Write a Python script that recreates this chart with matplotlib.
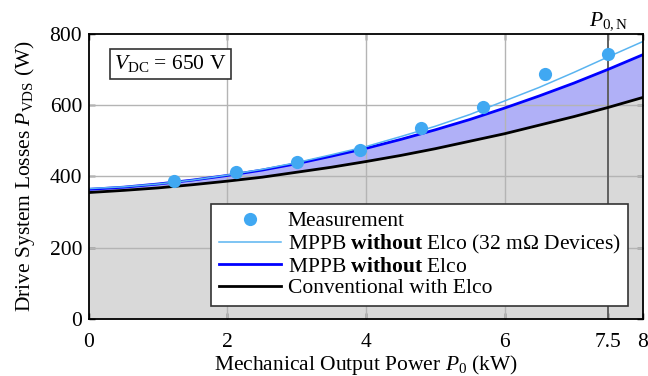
import matplotlib
matplotlib.use("Agg")
import matplotlib.pyplot as plt

plt.rcParams['font.family'] = ['Liberation Serif', 'DejaVu Serif']
plt.rcParams['mathtext.fontset'] = 'custom'
plt.rcParams['mathtext.rm'] = 'Liberation Serif'
plt.rcParams['mathtext.it'] = 'Liberation Serif:italic'
plt.rcParams['mathtext.bf'] = 'Liberation Serif:bold'

# Data
power = [0, 0.5, 1, 1.5, 2, 2.5, 3, 3.5, 4, 4.5, 5, 5.5, 6, 6.5, 7, 7.5, 8]
conventional = [355, 361, 368, 377, 387, 398, 412, 426, 442, 459, 478, 499, 520, 544, 568, 594, 622]
mppb = [364, 370, 379, 390, 403, 418, 436, 457, 479, 504, 531, 560, 592, 626, 662, 701, 742]
mppb_32 = [366, 371, 379, 390, 404, 420, 439, 461, 484, 512, 541, 574, 612, 650, 692, 736, 779]
meas_power = [1.23, 2.12, 3.01, 3.91, 4.80, 5.69, 6.59, 7.5]
meas_loss = [388, 412, 440, 475, 536, 596, 688, 744]
xticks = [0, 2, 4, 6, 7.5, 8]
xticklabels = ['0', '2', '4', '6', '7.5', '8']
yticks = [0, 200, 400, 600, 800]

FS = 15.5

fig = plt.figure(figsize=(6.48, 3.76), dpi=100)
ax = fig.add_axes([0.1373, 0.1516, 0.855, 0.758])

ax.fill_between(power, 0, conventional, color='#d9d9d9', lw=0, zorder=1)
ax.fill_between(power, conventional, mppb, color='#b0b0f7', lw=0, zorder=1)

for x in [2, 4, 6]:
    ax.axvline(x, color='#b4b4b4', lw=1.0, zorder=2)
for y in [200, 400, 600]:
    ax.axhline(y, color='#b4b4b4', lw=1.0, zorder=2)
ax.axvline(7.5, color='#606060', lw=1.4, zorder=2)

ax.plot(power, conventional, color='black', lw=2.0, zorder=4,
        label='Conventional with Elco')
ax.plot(power, mppb, color='#0000ff', lw=2.0, zorder=4,
        label=r'MPPB $\mathbf{without}$ Elco')
ax.plot(power, mppb_32, color='#5ab4f0', lw=1.1, zorder=4,
        label=r'MPPB $\mathbf{without}$ Elco (32 mΩ Devices)')
ax.plot(meas_power, meas_loss, 'o', color='#40a8f2', ms=9.5, mec='none',
        zorder=5, label='Measurement')

ax.set_xlim(0, 8)
ax.set_ylim(0, 800)
ax.set_xticks(xticks)
ax.set_xticklabels(xticklabels)
ax.set_yticks(yticks)
ax.tick_params(direction='in', top=True, right=True, labelsize=FS,
               length=4, width=1)
ax.tick_params(axis='y', pad=5)
ax.tick_params(axis='x', pad=10)
for s in ax.spines.values():
    s.set_linewidth(1.3)
    s.set_zorder(6)

ax.set_xlabel(r'Mechanical Output Power $P_0$ (kW)', fontsize=FS, labelpad=1)
ax.set_ylabel(r'Drive System Losses $P_\mathrm{VDS}$ (W)', fontsize=FS, labelpad=9)

h, l = ax.get_legend_handles_labels()
order = [3, 2, 1, 0]
leg = ax.legend([h[i] for i in order], [l[i] for i in order],
                loc='lower right', bbox_to_anchor=(0.973, 0.046),
                fontsize=FS, frameon=True, fancybox=False,
                edgecolor='#333333', framealpha=1, borderpad=0.35,
                labelspacing=0.06, handlelength=2.9, handletextpad=0.3,
                borderaxespad=0)
leg.get_frame().set_linewidth(1.2)
leg.set_zorder(7)

ax.text(0.045, 0.895, r'$V_\mathrm{DC}$ = 650 V', transform=ax.transAxes,
        fontsize=FS, va='center', ha='left', zorder=7,
        bbox=dict(boxstyle='square,pad=0.2', fc='white', ec='#333333', lw=1.2))

ax.text(7.5, 806, r'$P_{0,\mathrm{N}}$', fontsize=FS, ha='center', va='bottom')

fig.savefig('out.png', dpi=100)
